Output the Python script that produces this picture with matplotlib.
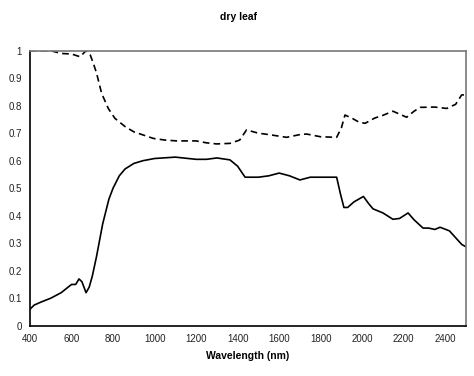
import matplotlib
matplotlib.use("Agg")
import matplotlib.pyplot as plt

plt.rcParams['font.family'] = ['Liberation Sans', 'DejaVu Sans']

# Solid curve
wl_solid = [400, 420, 450, 500, 550, 600, 620, 636, 650, 670, 685, 700, 720, 750, 780, 800,
            830, 858, 900, 944, 1000, 1100, 1200, 1250, 1300, 1363, 1400, 1436, 1500, 1550,
            1600, 1650, 1700, 1750, 1800, 1877, 1895, 1912, 1930, 1960, 2006, 2030, 2052,
            2100, 2148, 2180, 2221, 2250, 2293, 2320, 2350, 2375, 2420, 2450, 2480, 2500]
refl_solid = [0.06, 0.075, 0.085, 0.10, 0.12, 0.15, 0.15, 0.17, 0.16, 0.12, 0.14, 0.18, 0.25,
              0.37, 0.46, 0.50, 0.545, 0.57, 0.59, 0.60, 0.608, 0.613, 0.605, 0.605, 0.61,
              0.603, 0.58, 0.54, 0.54, 0.545, 0.555, 0.545, 0.53, 0.54, 0.54, 0.54, 0.48,
              0.43, 0.43, 0.45, 0.47, 0.445, 0.425, 0.41, 0.387, 0.39, 0.41, 0.385, 0.355,
              0.355, 0.35, 0.358, 0.345, 0.32, 0.295, 0.287]

# Dashed curve
wl_dash = [400, 450, 500, 550, 600, 641, 670, 690, 705, 720, 745, 777, 809, 858, 900, 994,
           1050, 1107, 1200, 1250, 1299, 1363, 1410, 1443, 1500, 1550, 1636, 1700, 1732,
           1800, 1877, 1900, 1917, 1950, 1985, 2014, 2060, 2100, 2148, 2214, 2250, 2279,
           2350, 2407, 2450, 2479, 2500]
refl_dash = [1.0, 1.0, 1.0, 0.99, 0.988, 0.978, 1.0, 0.985, 0.954, 0.92, 0.845, 0.79,
             0.754, 0.724, 0.705, 0.681, 0.675, 0.672, 0.672, 0.665, 0.661, 0.663, 0.675,
             0.712, 0.70, 0.695, 0.685, 0.695, 0.697, 0.687, 0.685, 0.72, 0.766, 0.755,
             0.74, 0.736, 0.755, 0.765, 0.78, 0.758, 0.78, 0.794, 0.795, 0.79, 0.805,
             0.839, 0.84]

x_ticks = [400, 600, 800, 1000, 1200, 1400, 1600, 1800, 2000, 2200, 2400]
y_ticks = [0, 0.1, 0.2, 0.3, 0.4, 0.5, 0.6, 0.7, 0.8, 0.9, 1]
y_labels = ['0', '0.1', '0.2', '0.3', '0.4', '0.5', '0.6', '0.7', '0.8', '0.9', '1']

fig = plt.figure(figsize=(4.74, 3.76), dpi=100)
ax = fig.add_axes([30/474, 1 - 325.7/376, 436/474, 275/376])

ax.plot(wl_solid, refl_solid, color='black', lw=1.2)
ax.plot(wl_dash, refl_dash, color='black', lw=1.2, linestyle=(0, (4, 2.5)))

ax.set_xlim(400, 2500)
ax.set_ylim(0, 1)
ax.set_xticks(x_ticks)
ax.set_yticks(y_ticks)
ax.set_yticklabels(y_labels)
ax.tick_params(axis='both', length=0, labelsize=7, pad=6, colors='#222222')

for s in ['left', 'bottom']:
    ax.spines[s].set_color('black')
    ax.spines[s].set_linewidth(1.2)
for s in ['top', 'right']:
    ax.spines[s].set_color('#777777')
    ax.spines[s].set_linewidth(1.2)

ax.set_xlabel('Wavelength (nm)', fontsize=7.5, fontweight='bold', labelpad=5)
fig.text(238/474, 1 - 17/376, 'dry leaf', ha='center', va='center',
         fontsize=7.5, fontweight='bold')

fig.savefig('out.png', dpi=100)
